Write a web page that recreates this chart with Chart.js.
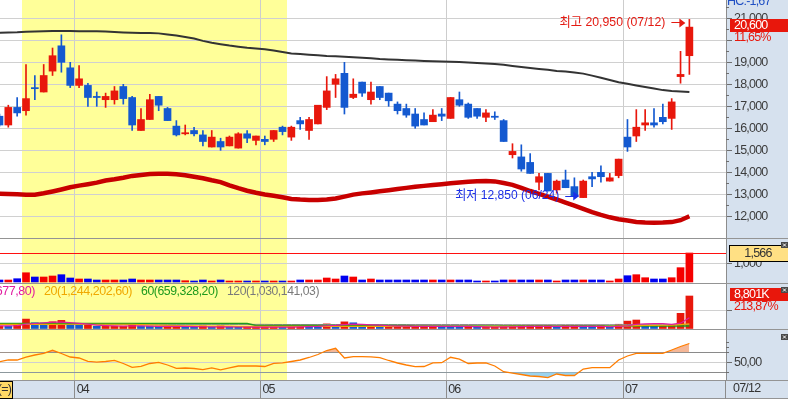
<!DOCTYPE html>
<html><head><meta charset="utf-8">
<script src="https://cdn.jsdelivr.net/npm/chart.js@4.4.1/dist/chart.umd.min.js"></script>
<style>
html,body{margin:0;padding:0;background:#d6e1ee;width:788px;height:399px;overflow:hidden;}
canvas{position:absolute;left:0;}
</style></head><body>
<canvas id="cA" width="788" height="238" style="top:0px"></canvas>
<canvas id="cB" width="788" height="45" style="top:238px"></canvas>
<canvas id="cC" width="788" height="46" style="top:283px"></canvas>
<canvas id="cD" width="788" height="70" style="top:329px"></canvas>
<script>
// ---------------- DATA ----------------
const dates = ['03/21','03/22','03/23','03/24','03/25','03/28','03/29','03/30','03/31',
'04/01','04/04','04/05','04/06','04/07','04/08','04/11','04/12','04/13','04/14','04/15','04/18','04/19','04/20','04/21','04/22','04/25','04/26','04/27','04/28','04/29',
'05/02','05/03','05/04','05/06','05/09','05/10','05/11','05/12','05/13','05/16','05/17','05/18','05/19','05/20','05/23','05/24','05/25','05/26','05/27','05/30','05/31',
'06/02','06/03','06/07','06/08','06/09','06/10','06/13','06/14','06/15','06/16','06/17','06/20','06/21','06/22','06/23','06/24','06/27','06/28','06/29','06/30',
'07/01','07/04','07/05','07/06','07/07','07/08','07/11','07/12'];

const openP = [16550,16150,16950,16800,17850,17650,18600,19750,18750,17950,17950,17450,17300,17300,17900,17400,15900,16400,17450,16900,
16100,15750,15900,15700,15150,15400,15200,15100,15750,15450,15500,15500,16050,15600,16350,15900,16200,16950,18000,18500,
17400,18100,17300,17900,17600,17100,16900,16650,16400,16300,16650,16450,17300,17100,16900,16500,16550,16350,14800,14700,
14450,13550,13950,13200,13650,13350,12850,13800,14000,13600,13850,15600,15650,16150,16250,16500,16450,18350,19300];
const highP = [16650,17050,17400,18900,18400,18900,19650,20250,19000,18850,18050,17650,17600,17900,18000,17450,16900,17550,17450,16950,
16350,16150,16050,15900,15900,15550,15650,15800,15900,15650,15650,15900,16100,16100,16500,16500,17050,18350,18450,19000,
18250,18100,18100,17900,17600,17200,17100,16900,16700,16850,16900,17400,17650,17150,16900,16850,16750,16400,15300,15250,
14850,13950,13950,13650,14100,13750,13650,14000,14300,13950,14600,16400,16850,16850,16900,17100,17350,19500,20950];
const lowP = [16100,16050,16550,16600,17300,17650,18400,18550,17850,17850,17000,17000,16950,17100,17100,15900,15900,16400,16800,16350,
15650,15700,15650,15200,15150,15000,15200,15100,15350,15250,15250,15400,15700,15450,15950,15500,16200,16850,17400,16650,
17350,17450,17100,17300,17000,16650,16500,16000,16150,16300,16350,16450,17000,16450,16450,16300,16400,15400,14650,14050,
13950,13200,13150,13050,13300,12900,12850,13350,13550,13600,13750,14950,15400,15900,16050,16200,15950,18050,18450];
const closeP = [16150,16950,16700,17350,17800,18400,19300,19000,17950,18250,17400,17400,17450,17700,17350,16150,16400,17300,17050,16350,
15700,15800,15750,15400,15600,15150,15600,15750,15550,15650,15400,15900,15850,16050,16200,16400,17050,17700,18250,16950,
17550,17600,17650,17400,17250,16800,16600,16100,16150,16600,16550,17400,17050,16500,16550,16700,16500,15400,14950,14150,
13950,13800,13150,13600,13300,12900,13600,13700,13800,13750,14600,15150,16050,16250,16150,16300,17200,18450,20600];

const maLong = [20345,20360,20370,20390,20400,20415,20423,20423,20420,20415,20410,20410,20395,20377,20360,20345,20335,20327,20315,20265,
20215,20150,20082,19973,19890,19823,19760,19710,19664,19632,19595,19536,19473,19405,19377,19345,19318,19291,19273,19250,
19232,19209,19182,19150,19132,19114,19095,19077,19059,19045,19036,19023,19014,18991,18968,18945,18927,18886,18836,18791,
18745,18700,18659,18609,18577,18541,18486,18395,18300,18200,18091,18023,17950,17877,17805,17736,17700,17677,17655];
const maRed = [13028,13015,13000,12983,12983,13046,13128,13219,13319,13396,13460,13532,13628,13683,13750,13837,13882,13923,13932,13937,
13914,13869,13800,13732,13637,13555,13405,13278,13164,13069,12992,12933,12869,12787,12760,12746,12742,12764,12810,12896,
12987,13042,13087,13137,13187,13237,13292,13342,13383,13419,13460,13505,13537,13569,13596,13605,13587,13514,13432,13292,
13150,13019,12892,12764,12624,12487,12337,12187,12064,11955,11865,11805,11746,11723,11710,11719,11737,11823,12000];

const tradeValue = [108,108,178,500,270,270,324,395,216,162,162,108,108,108,108,162,108,108,108,108,
108,70,54,108,54,108,54,54,54,54,54,54,54,54,108,108,108,216,162,324,
270,108,162,108,108,108,108,108,108,108,108,108,108,108,54,54,54,108,108,108,
108,108,108,54,108,108,108,108,108,54,162,340,395,232,162,162,232,774,1566];

const volumeK = [650,640,1000,2550,1550,1500,1800,2200,1200,900,920,620,620,620,620,980,650,640,630,650,
680,450,350,700,360,700,360,350,350,350,350,350,340,340,660,650,640,1250,900,1800,
1550,620,930,620,630,640,650,660,660,660,650,640,630,650,330,330,330,680,730,760,
780,800,810,400,810,820,800,790,790,400,1150,2000,2300,1000,650,650,1000,4115.2,8801];
const volMA5 = [700,720,800,1200,1350,1500,1700,1700,1600,1400,1200,900,800,700,650,700,700,650,600,600,
600,550,500,480,450,450,430,400,380,380,380,370,370,380,450,500,560,750,850,1050,
1200,1100,1000,900,750,650,620,600,600,600,600,600,600,600,520,460,400,420,480,520,
560,600,600,560,560,550,560,560,560,480,600,720,1150,1250,1340,1340,1100,1450,2919.6778];
const volMA20 = [1100,1100,1100,1100,1100,1100,1100,1150,1150,1150,1150,1150,1150,1150,1150,1150,1050,980,900,850,
800,750,700,680,660,650,640,600,600,600,600,600,600,600,600,600,600,600,600,600,
600,600,600,600,600,600,600,600,600,600,600,600,560,560,560,560,560,560,560,560,
560,560,560,560,560,560,560,560,560,560,620,700,800,850,870,880,900,1050,1244.2026];
const volMA60 = [1360,1360,1360,1360,1360,1360,1360,1360,1360,1360,1360,1360,1360,1360,1360,1360,1360,1360,1360,1360,
1360,1360,1360,1360,1360,1360,1360,1360,1360,820,820,820,820,820,820,820,820,820,820,820,
820,820,820,820,820,820,820,660,660,660,660,660,660,660,660,660,660,660,660,660,
660,660,660,660,660,660,660,660,660,660,660,660,660,660,660,660,660,660,659.3282];
const volMA120 = [1120,1120,1120,1120,1120,1120,1120,1120,1120,1120,1120,1120,1120,1120,1120,1120,1120,1120,1120,1120,
1120,1120,1120,1120,1120,1120,1120,1120,1120,1120,1120,1080,1080,1080,1080,1080,1080,1080,1080,1080,
1080,1080,1080,1080,1080,1080,1080,1080,1080,1080,1080,1080,1080,1080,1080,1080,1080,1040,1040,1040,
1040,1040,1040,1040,1040,1040,1040,1040,1040,1040,1040,1040,1040,1040,1040,1040,1040,1040,1030.14103];

const osc = [51.2,55,54.6,60.2,64.6,68,74,67.6,60.6,58.6,52,50.2,51.6,54,47.6,39.8,42,47.6,50,44.6,
38,38.6,37.6,35.4,39,34.8,39,42.6,42.6,42.6,41.6,48,49,51.6,54.6,59.6,65.6,73.6,78,58.6,
61.2,61.2,61,59.2,53.6,48.6,44.6,41.2,41.6,49,49.2,60,56.2,47.6,48.6,49,42.6,31.2,28.2,25.6,
22.6,21.6,19.2,26.6,23.6,23.6,36.6,39.2,39.2,39.2,54.6,62.6,68,68,68,68,74.6,81.6,87.6];
const oscUpper = 70, oscMid = 50, oscLower = 30;

const priceTicks = [12000,13000,14000,15000,16000,17000,18000,19000,20000,21000];
const tradeTicks = [1000];
const volumeTicks = [5000];
const oscTicks = [50];
const highlightStart = '03/24', highlightEnd = '05/04';
const headerText = 'HC:-1,67';

// ---------------- HELPERS ----------------
const FONT = "'Liberation Sans','Noto Sans CJK KR',sans-serif";
const FS = 12.5, LS = '-0.8px';
const RED = '#e8170c', BLUE = '#1459d0';
const VRED = '#f50000', VBLUE = '#0000f0';
const GRID = '#d0d0d0', BORDER = '#949494';
const X_MIN = -0.94, X_MAX = 81.14;
const xs = dates.map((d,k)=>k-1);
const last = dates.length-1;
const isUp = k => closeP[k] >= openP[k];
const fmtInt = v => Math.round(v).toLocaleString('en-US');
const fmtDec = (v,d) => { const s = v.toFixed(d).split('.'); return Number(s[0]).toLocaleString('en-US') + ',' + s[1]; };

const monthTicks = [], monthNames = [];
for (let k=1;k<dates.length;k++){
  if (dates[k].slice(0,2)!==dates[k-1].slice(0,2)){ monthTicks.push(xs[k]-0.5); monthNames.push(dates[k].slice(0,2)); }
}
Chart.defaults.font.family = FONT;
Chart.defaults.font.size = FS;

function xAxis(withLabels){
  return {type:'linear', min:X_MIN, max:X_MAX, offset:false,
    afterBuildTicks:s=>{s.ticks=monthTicks.map(v=>({value:v}));},
    afterFit:s=>{s.height=withLabels?19:0; s.paddingLeft=0; s.paddingRight=0; s.paddingTop=0; s.paddingBottom=0;},
    grid:{color:'#cdcdcd', lineWidth:1, offset:false, drawTicks:withLabels, tickLength:19, tickColor:'#8c8c8c'},
    border:{display:false},
    ticks:{display:withLabels, autoSkip:false, maxRotation:0, minRotation:0, align:'start', labelOffset:2, padding:-17,
      color:'#333', font:{family:FONT,size:FS}, callback:(v,i)=>monthNames[i]}
  };
}
function yAxis(min,max,ticks,cb,gridColor){
  return {position:'right', min:min, max:max,
    afterBuildTicks:s=>{s.ticks=ticks.map(v=>({value:v}));},
    afterFit:s=>{s.width=62; s.paddingTop=0; s.paddingBottom=0; s.paddingLeft=0; s.paddingRight=0;},
    grid:{color:gridColor||GRID, lineWidth:1, tickColor:'#6e6e6e', tickLength:6, drawTicks:true},
    border:{display:true, color:'#8c8c8c'},
    ticks:{padding:2, color:'#3c3c3c', font:{family:FONT,size:FS}, callback:cb}
  };
}
function paintArea(chart){
  const {ctx, chartArea:a, scales:{x}} = chart;
  ctx.letterSpacing = LS;
  ctx.save();
  ctx.fillStyle='#ffffff'; ctx.fillRect(a.left,a.top,a.right-a.left,a.bottom-a.top);
  const k0 = dates.indexOf(highlightStart), k1 = dates.indexOf(highlightEnd);
  const x0 = x.getPixelForValue(xs[k0]-0.5), x1 = x.getPixelForValue(xs[k1]+0.5);
  ctx.fillStyle='#ffff99'; ctx.fillRect(Math.round(x0), a.top, Math.round(x1)-Math.round(x0), a.bottom-a.top);
  ctx.restore();
}
function hline(ctx,y,x0,x1,color){ ctx.save(); ctx.strokeStyle=color; ctx.lineWidth=1; ctx.beginPath(); ctx.moveTo(x0,y); ctx.lineTo(x1,y); ctx.stroke(); ctx.restore(); }
function vline(ctx,x,y0,y1,color){ ctx.save(); ctx.strokeStyle=color; ctx.lineWidth=1; ctx.beginPath(); ctx.moveTo(x,y0); ctx.lineTo(x,y1); ctx.stroke(); ctx.restore(); }
function closeBtn(ctx,x,y){
  ctx.save(); ctx.fillStyle='#4a4a4a'; ctx.fillRect(x,y,7,6);
  ctx.strokeStyle='#ffffff'; ctx.lineWidth=1; ctx.beginPath();
  ctx.moveTo(x+2,y+1.5); ctx.lineTo(x+5,y+4.5); ctx.moveTo(x+5,y+1.5); ctx.lineTo(x+2,y+4.5); ctx.stroke(); ctx.restore();
}
function minorTicks(ctx, scale, values){
  ctx.save(); ctx.strokeStyle='#6e6e6e'; ctx.lineWidth=1; ctx.beginPath();
  values.forEach(v=>{ const y = Math.round(scale.getPixelForValue(v))+0.5; ctx.moveTo(726,y); ctx.lineTo(729,y); });
  ctx.stroke(); ctx.restore();
}
function arrowText(ctx, text, tipX, y, color, w){
  ctx.save(); ctx.letterSpacing='0px'; ctx.fillStyle=color; ctx.strokeStyle=color; ctx.font='13px '+FONT;
  ctx.textAlign='right'; ctx.textBaseline='middle'; ctx.fillText(text, tipX-20, y, w);
  ctx.lineWidth=1; ctx.beginPath(); ctx.moveTo(tipX-14, Math.round(y)+0.5); ctx.lineTo(tipX-5, Math.round(y)+0.5); ctx.stroke();
  ctx.beginPath(); ctx.moveTo(tipX-6, y-4); ctx.lineTo(tipX, y+0.5); ctx.lineTo(tipX-6, y+5); ctx.closePath(); ctx.fill();
  ctx.restore();
}
const baseOpts = {responsive:false, animation:false, devicePixelRatio:1, events:[],
  layout:{padding:0}, plugins:{legend:{display:false}, tooltip:{enabled:false}}};

// ---------------- PRICE PANEL ----------------
new Chart(document.getElementById('cA'), {
  type:'bar',
  data:{datasets:[
    {type:'bar', data:xs.map((x,k)=>({x:x, y:[lowP[k],highP[k]]})), backgroundColor:c=>isUp(c.dataIndex)?RED:BLUE,
      barThickness:1, grouped:false, borderWidth:0, borderSkipped:false, order:4},
    {type:'bar', data:xs.map((x,k)=>({x:x, y:[openP[k],closeP[k]]})), backgroundColor:c=>isUp(c.dataIndex)?RED:BLUE,
      barThickness:7, grouped:false, minBarLength:1, borderWidth:0, borderSkipped:false, order:3},
    {type:'line', data:xs.map((x,k)=>({x:x, y:maRed[k]})), borderColor:'#c80000', borderWidth:4.5, pointRadius:0, tension:0, order:2},
    {type:'line', data:xs.map((x,k)=>({x:x, y:maLong[k]})), borderColor:'#333333', borderWidth:2, pointRadius:0, tension:0, order:1}
  ]},
  options:Object.assign({}, baseOpts, {
    scales:{ x:xAxis(false), y:yAxis(11014, 21832, priceTicks,
      v=>{ const d = closeP[last]-v; return (d>0 && d<700) ? '' : fmtInt(v); }) }
  }),
  plugins:[{id:'pa', beforeDraw:paintArea, afterDraw(chart){
    const {ctx, scales:{x,y}} = chart;
    minorTicks(ctx, y, priceTicks.map(v=>v+500).filter(v=>v<21800));
    ctx.save(); ctx.font=FS+'px '+FONT; ctx.fillStyle='#1f4fc4'; ctx.textBaseline='alphabetic'; ctx.textAlign='left';
    ctx.fillText(headerText, 727, 4.5);
    const yc = y.getPixelForValue(closeP[last]);
    ctx.fillStyle=RED; ctx.fillRect(730, Math.round(yc-8), 58, 13);
    ctx.fillStyle='#ffffff'; ctx.textBaseline='middle'; ctx.fillText(fmtInt(closeP[last]), 734, yc-1.5);
    ctx.fillStyle=RED; ctx.fillText(fmtDec((closeP[last]/closeP[last-1]-1)*100,2)+'%', 734, yc+10);
    ctx.restore();
    let kH=0,kL=0; highP.forEach((v,k)=>{ if(v>highP[kH]) kH=k; }); lowP.forEach((v,k)=>{ if(v<lowP[kL]) kL=k; });
    arrowText(ctx, '최고 '+fmtInt(highP[kH])+' ('+dates[kH]+')', x.getPixelForValue(xs[kH])-4, y.getPixelForValue(highP[kH])+3, '#e41a12', 106);
    arrowText(ctx, '최저 '+fmtInt(lowP[kL])+' ('+dates[kL]+')', x.getPixelForValue(xs[kL])-4, y.getPixelForValue(lowP[kL])-2, '#1a2ee6', 104);
  }}]
});

// ---------------- TRADE VALUE PANEL ----------------
new Chart(document.getElementById('cB'), {
  type:'bar',
  data:{datasets:[
    {data:xs.map((x,k)=>({x:x, y:tradeValue[k]})), backgroundColor:c=>isUp(c.dataIndex)?VRED:VBLUE, barThickness:7, grouped:false, minBarLength:1, borderWidth:0}
  ]},
  options:Object.assign({}, baseOpts, {
    scales:{ x:xAxis(false), y:yAxis(-54, 2376, tradeTicks, v=>fmtInt(v)) }
  }),
  plugins:[{id:'pb', beforeDraw:paintArea, afterDatasetsDraw(chart){
    const {ctx, scales:{y}} = chart;
    hline(ctx, Math.round(y.getPixelForValue(tradeValue[last]))+0.5, 0, 726, '#ff1010');
  }, afterDraw(chart){
    const {ctx, scales:{y}} = chart;
    hline(ctx, 0.5, 0, 788, BORDER);
    const yr = Math.round(y.getPixelForValue(tradeValue[last]));
    ctx.save(); ctx.fillStyle='#ffe084'; ctx.fillRect(729, yr-8, 60, 16);
    ctx.strokeStyle='#000'; ctx.lineWidth=1; ctx.strokeRect(729.5, yr-7.5, 70, 16);
    ctx.fillStyle='#333'; ctx.font=FS+'px '+FONT; ctx.textAlign='center'; ctx.textBaseline='middle';
    ctx.fillText(fmtInt(tradeValue[last]), 758, yr+0.5); ctx.restore();
    closeBtn(ctx, 781, 4);
  }}]
});

// ---------------- VOLUME PANEL ----------------
new Chart(document.getElementById('cC'), {
  type:'bar',
  data:{datasets:[
    {type:'bar', data:xs.map((x,k)=>({x:x, y:volumeK[k]})), backgroundColor:c=>(c.dataIndex===0||volumeK[c.dataIndex]>=volumeK[c.dataIndex-1])?RED:BLUE,
      barThickness:7, grouped:false, minBarLength:1, borderWidth:0, order:5},
    {type:'line', data:xs.map((x,k)=>({x:x, y:volMA120[k]})), borderColor:'#8c8c8c', borderWidth:1, pointRadius:0, order:4},
    {type:'line', data:xs.map((x,k)=>({x:x, y:volMA60[k]})), borderColor:'#1e9a1e', borderWidth:1.5, pointRadius:0, order:3},
    {type:'line', data:xs.map((x,k)=>({x:x, y:volMA20[k]})), borderColor:'#f0a800', borderWidth:1.2, pointRadius:0, order:2},
    {type:'line', data:xs.map((x,k)=>({x:x, y:volMA5[k]})), borderColor:'#e01ca0', borderWidth:1.2, pointRadius:0, order:1}
  ]},
  options:Object.assign({}, baseOpts, {
    scales:{ x:xAxis(false), y:yAxis(-135, 12320, volumeTicks, v=>'') }
  }),
  plugins:[{id:'pc', beforeDraw:paintArea, afterDraw(chart){
    const {ctx} = chart;
    hline(ctx, 0.5, 0, 788, BORDER);
    ctx.save(); ctx.font=FS+'px '+FONT; ctx.textBaseline='middle'; ctx.letterSpacing='-0.45px';
    ctx.textAlign='right'; ctx.fillStyle='#e01ca0'; ctx.fillText('5('+fmtDec(volMA5[last]*1000,2)+')', 35, 9);
    ctx.textAlign='left';
    ctx.fillStyle='#f0a800'; ctx.fillText('20('+fmtDec(volMA20[last]*1000,2)+')', 44, 9, 88);
    ctx.fillStyle='#1e9a1e'; ctx.fillText('60('+fmtDec(volMA60[last]*1000,2)+')', 141, 9, 77);
    ctx.fillStyle='#7a7a7a'; ctx.fillText('120('+fmtDec(volMA120[last]*1000,2)+')', 227, 9, 92);
    ctx.letterSpacing=LS;
    ctx.fillStyle=RED; ctx.fillRect(730, 5, 58, 13);
    ctx.fillStyle='#fff'; ctx.fillText(fmtInt(volumeK[last])+'K', 734, 11.5);
    ctx.fillStyle=RED; ctx.fillText(fmtDec(volumeK[last]/volumeK[last-1]*100,2)+'%', 734, 24);
    ctx.restore();
    closeBtn(ctx, 781, 4);
  }}]
});

// ---------------- OSCILLATOR PANEL + DATE AXIS ----------------
new Chart(document.getElementById('cD'), {
  type:'line',
  data:{datasets:[
    {data:xs.map((x,k)=>({x:x, y:osc[k]})), borderColor:'#ff7d00', borderWidth:1.3, pointRadius:0, tension:0,
      fill:{target:{value:oscUpper}, above:'#f5b797', below:'rgba(0,0,0,0)'}, order:1},
    {data:xs.map((x,k)=>({x:x, y:osc[k]})), borderWidth:0, borderColor:'rgba(0,0,0,0)', pointRadius:0, tension:0,
      fill:{target:{value:oscLower}, above:'rgba(0,0,0,0)', below:'#9ad3ef'}, order:2}
  ]},
  options:Object.assign({}, baseOpts, {
    scales:{ x:xAxis(true), y:yAxis(14.6, 116.6, oscTicks, v=>fmtDec(v,2)) }
  }),
  plugins:[{id:'pd', beforeDraw:paintArea, beforeDatasetsDraw(chart){
    const {ctx, chartArea:a, scales:{y}} = chart;
    [oscUpper, oscLower].forEach(v=>hline(ctx, Math.round(y.getPixelForValue(v))+0.5, a.left, a.right, '#8a8a8a'));
  }, afterDraw(chart){
    const {ctx, chartArea:a, scales:{y}} = chart;
    hline(ctx, 0.5, 0, 788, BORDER);
    hline(ctx, a.bottom+0.5, 0, 788, BORDER);
    hline(ctx, 69.5, 0, 788, BORDER);
    vline(ctx, 725.5, a.bottom, 70, '#8c8c8c');
    minorTicks(ctx, y, [oscLower, oscUpper, 80, 90]);
    ctx.save(); ctx.font=FS+'px '+FONT; ctx.fillStyle='#333'; ctx.textBaseline='top'; ctx.textAlign='left';
    ctx.fillText(dates[last], 733, a.bottom+2);
    ctx.fillStyle='#ffd966'; ctx.fillRect(-5, a.bottom+1.5, 17.5, 17);
    ctx.strokeStyle='#000'; ctx.strokeRect(-5.5, a.bottom+1.5, 18, 17);
    ctx.fillStyle='#333'; ctx.textAlign='right'; ctx.fillText('(=)', 11, a.bottom+3);
    ctx.restore();
    closeBtn(ctx, 781, 5);
  }}]
});
</script>
</body></html>
